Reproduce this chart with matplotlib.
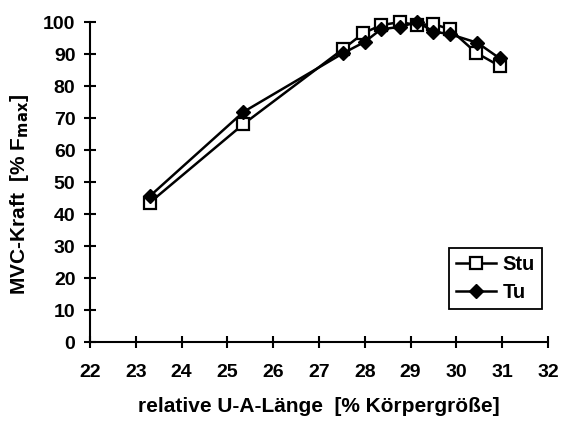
import matplotlib.pyplot as plt

plt.rcParams['font.family'] = ['Liberation Sans', 'DejaVu Sans']
plt.rcParams['font.weight'] = 'bold'

# relative U-A-Länge [% Körpergröße] and MVC-Kraft [% Fmax]
x_stu = [23.3, 25.35, 27.52, 27.97, 28.35, 28.77, 29.15, 29.5, 29.86, 30.43, 30.95]
y_stu = [43.5, 68.1, 91.5, 96.5, 99.0, 100.0, 99.0, 99.4, 97.7, 90.4, 86.2]
x_tu = [23.3, 25.35, 27.52, 28.0, 28.35, 28.77, 29.15, 29.5, 29.86, 30.46, 30.95]
y_tu = [45.5, 71.9, 90.2, 93.8, 97.7, 98.5, 100.0, 97.0, 96.2, 93.5, 88.6]

x_ticks = list(range(22, 33))
y_ticks = list(range(0, 101, 10))

fig = plt.figure(figsize=(5.67, 4.21), dpi=100)
ax = fig.add_axes([0.1587, 0.1876, 0.8078, 0.7601])

ax.plot(x_stu, y_stu, color='black', lw=1.8, marker='s', ms=8.5,
        mfc='white', mec='black', mew=1.6, label='Stu', clip_on=False)
ax.plot(x_tu, y_tu, color='black', lw=1.8, marker='D', ms=7.5,
        mfc='black', mec='black', label='Tu', clip_on=False)

ax.set_xlim(22, 32)
ax.set_ylim(0, 100)
ax.set_xticks(x_ticks)
ax.set_xticklabels([str(t) for t in x_ticks], fontsize=14, fontweight='bold')
ax.set_yticks(y_ticks)
ax.set_yticklabels([str(t) for t in y_ticks], fontsize=14, fontweight='bold')
ax.spines['top'].set_visible(False)
ax.spines['right'].set_visible(False)
for s in ('left', 'bottom'):
    ax.spines[s].set_linewidth(1.5)
ax.tick_params(direction='inout', length=9, width=1.5)
ax.tick_params(axis='x', pad=11)
ax.tick_params(axis='y', pad=6)

ax.set_xlabel('relative U-A-Länge  [% Körpergröße]', fontsize=15,
              fontweight='bold', labelpad=12)
ax.set_ylabel('MVC-Kraft  [% F$_{\\mathbf{max}}$]', fontsize=15,
              fontweight='bold')
ax.yaxis.set_label_coords(-0.128, 0.46)

leg = ax.legend(loc='lower right', bbox_to_anchor=(0.995, 0.09), fancybox=False,
                edgecolor='black', framealpha=1, handlelength=2.0,
                handletextpad=0.3, prop={'weight': 'bold', 'size': 14.5},
                borderpad=0.35, labelspacing=0.45, borderaxespad=0.2)
leg.get_frame().set_linewidth(1.3)

fig.savefig('out.png', dpi=100)
plt.close(fig)
